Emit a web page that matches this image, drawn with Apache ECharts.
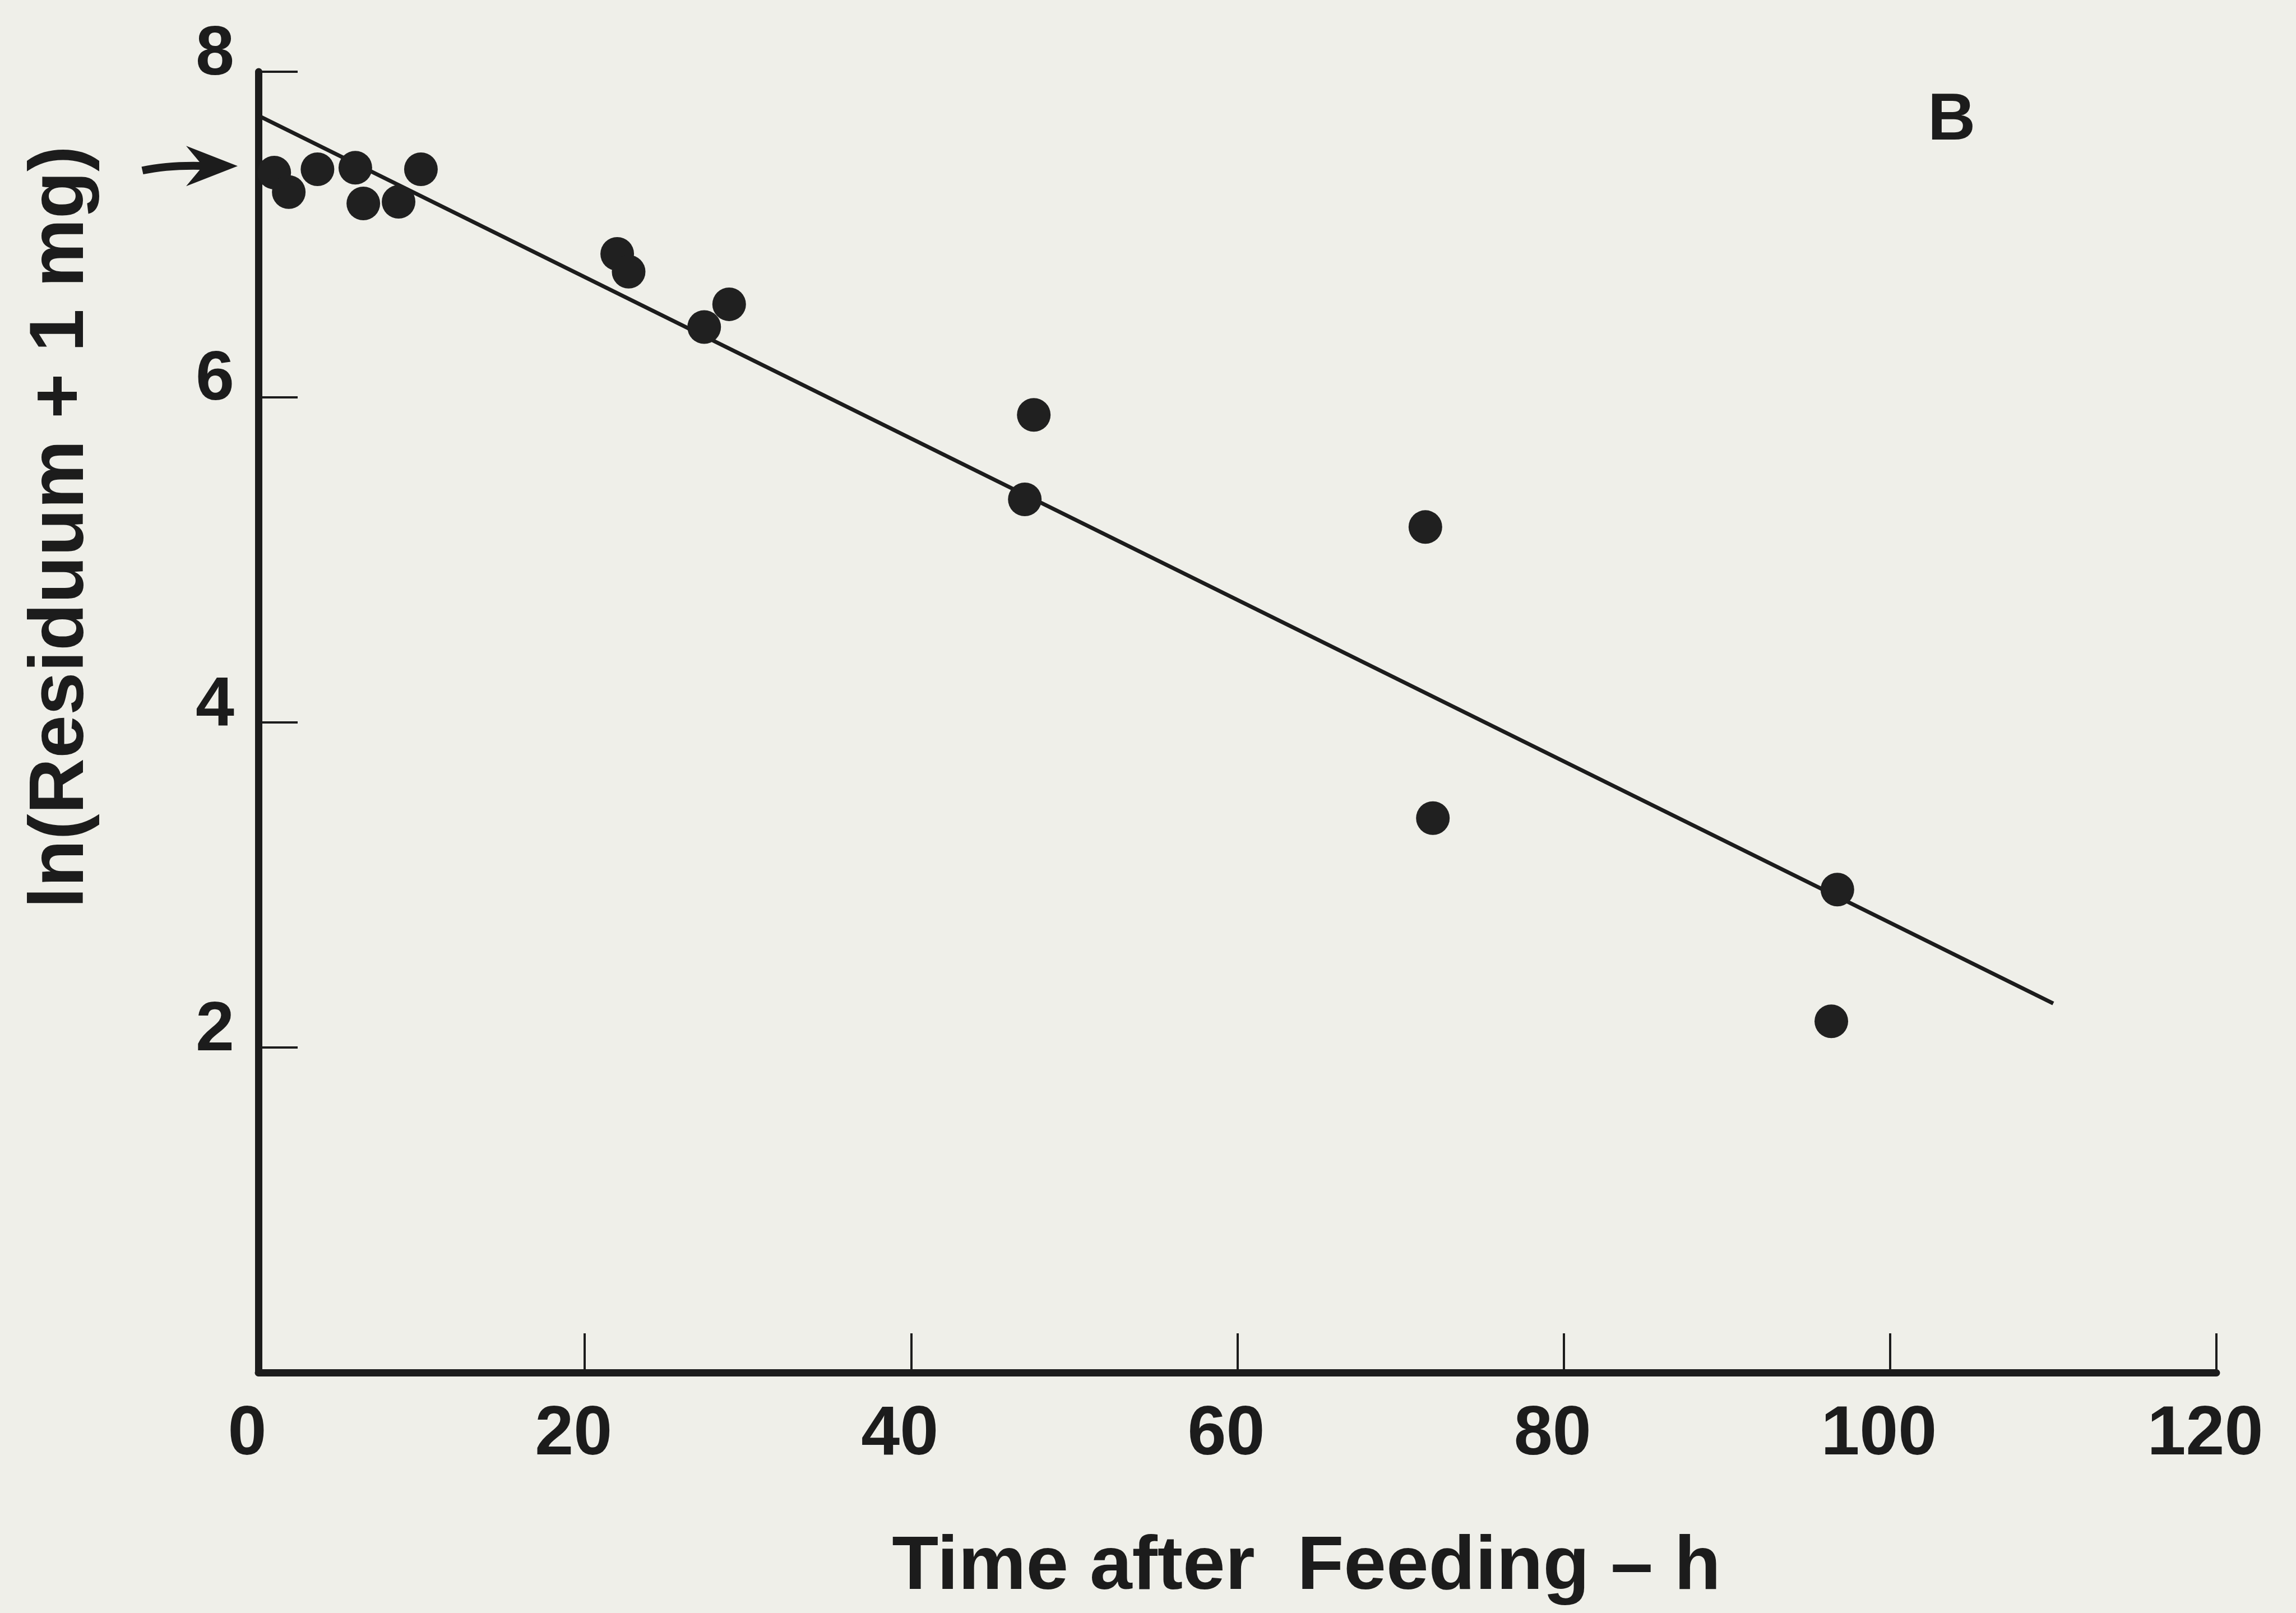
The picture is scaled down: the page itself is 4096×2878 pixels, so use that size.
<!DOCTYPE html>
<html>
<head>
<meta charset="utf-8">
<title>ln(Residuum + 1 mg) vs time after feeding</title>
<script src="https://cdn.jsdelivr.net/npm/echarts@6/dist/echarts.min.js"></script>
<style>
  html, body { margin: 0; padding: 0; background: #efefe9; }
  #chart { width: 4096px; height: 2878px; }
</style>
</head>
<body>
<div id="chart"></div>
<script>
// observed points
const timeH = [0.97, 1.86, 3.62, 5.94, 6.43, 8.59, 9.96, 21.99, 22.69, 27.32, 28.85, 47.52, 46.97, 71.52, 71.98, 96.77, 96.40];
const lnRes = [7.38, 7.26, 7.40, 7.41, 7.19, 7.20, 7.40, 6.88, 6.77, 6.43, 6.57, 5.89, 5.37, 5.20, 3.41, 2.97, 2.16];

// fitted regression line (end points)
const fitX = [0, 110];
const fitY = [7.73, 2.27];

// arrow marks the starting level on the y axis
const arrowLevel = 7.42;

const xTicks = [0, 20, 40, 60, 80, 100, 120];
const yTicks = [0, 2, 4, 6, 8];

const ink = "#1c1c1c";
const font = "Liberation Sans";

const chart = echarts.init(document.getElementById("chart"));

const option = {
  backgroundColor: "#efefe9",
  animation: false,
  title: {
    text: "B",
    left: 3434,
    top: 152,
    textStyle: { color: ink, fontFamily: font, fontWeight: "bold", fontSize: 118 },
  },
  grid: {
    left: 461,
    right: 142,
    top: 128,
    bottom: 429,
    containLabel: false,
    outerBoundsMode: "none",
  },
  xAxis: {
    type: "value",
    min: xTicks[0],
    max: xTicks[xTicks.length - 1],
    interval: 20,
    name: "Time after  Feeding – h",
    nameLocation: "middle",
    nameGap: 280,
    nameTextStyle: {
      color: ink,
      fontFamily: font,
      fontWeight: "bold",
      fontSize: 136,
      padding: [0, 0, 0, 246],
    },
    axisLine: { lineStyle: { color: ink, width: 13 } },
    axisTick: { inside: true, length: 70, lineStyle: { color: ink, width: 4 } },
    axisLabel: {
      color: ink,
      fontFamily: font,
      fontWeight: "bold",
      fontSize: 124,
      margin: 50,
      padding: [0, 40, 0, 0],
    },
    splitLine: { show: false },
  },
  yAxis: {
    type: "value",
    min: yTicks[0],
    max: yTicks[yTicks.length - 1],
    interval: 2,
    name: "ln(Residuum + 1 mg)",
    nameLocation: "middle",
    nameGap: 282,
    nameTextStyle: {
      color: ink,
      fontFamily: font,
      fontWeight: "bold",
      fontSize: 138,
      padding: [0, 0, 0, 696],
    },
    axisLine: { lineStyle: { color: ink, width: 13 } },
    axisTick: { inside: true, length: 70, lineStyle: { color: ink, width: 4 } },
    axisLabel: {
      color: ink,
      fontFamily: font,
      fontWeight: "bold",
      fontSize: 124,
      margin: 43,
      verticalAlign: "bottom",
      lineHeight: 58,
      formatter: (v) => (v === 0 ? "" : String(v)),
    },
    splitLine: { show: false },
  },
  series: [
    {
      name: "fit",
      type: "line",
      data: fitX.map((x, i) => [x, fitY[i]]),
      showSymbol: false,
      symbol: "none",
      lineStyle: { color: ink, width: 7 },
      z: 2,
    },
    {
      name: "observed",
      type: "scatter",
      data: timeH.map((t, i) => [t, lnRes[i]]),
      symbol: "circle",
      symbolSize: 60,
      itemStyle: { color: "#202020", opacity: 1 },
      z: 3,
    },
  ],
};

chart.setOption(option);

// arrow pointing at the y axis, placed from the axis scale
const tip = chart.convertToPixel({ gridIndex: 0 }, [0, arrowLevel]);
const tx = tip[0] - 37;
const ty = tip[1];
chart.setOption({
  graphic: [
    {
      type: "bezierCurve",
      shape: { x1: tx - 170, y1: ty + 8, x2: tx - 50, y2: ty, cpx1: tx - 120, cpy1: ty - 3 },
      style: { stroke: ink, lineWidth: 14, fill: null },
      z: 10,
    },
    {
      type: "polygon",
      shape: {
        points: [
          [tx, ty],
          [tx - 92, ty - 36],
          [tx - 62, ty],
          [tx - 92, ty + 36],
        ],
      },
      style: { fill: ink },
      z: 10,
    },
  ],
});
</script>
</body>
</html>
